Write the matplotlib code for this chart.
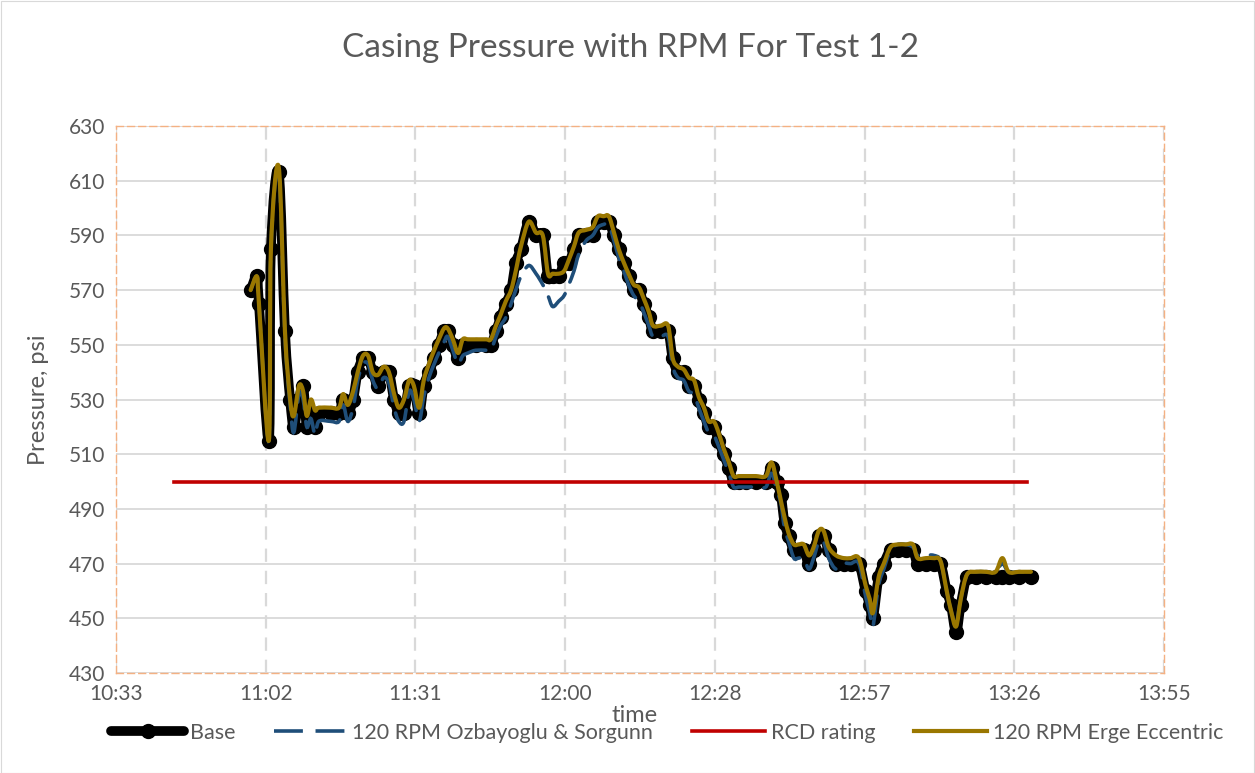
import numpy as np
import matplotlib
matplotlib.use("Agg")
import matplotlib.pyplot as plt
from matplotlib.path import Path
from matplotlib.patches import PathPatch, Rectangle
from matplotlib.lines import Line2D

# ---------------- data (time = minutes after 11:00) ----------------
minutes = [-0.5, 0.7, 1.1, 3.0, 3.4, 4.9, 6.1, 7.1, 7.8, 8.8, 9.6, 10.3, 11.1, 11.9,
           12.6, 14.9, 16.5, 17.3, 18.2, 19.2, 20.1, 21.1, 22.1, 23.0, 24.0, 25.1,
           26.1, 27.1, 28.0, 29.0, 30.0, 30.9, 31.9, 32.8, 33.8, 34.8, 35.7, 36.7,
           37.4, 38.4, 39.4, 40.3, 41.3, 42.8, 44.8, 45.7, 46.7, 47.6, 48.6, 49.6,
           50.5, 51.5, 53.0, 54.4, 55.7, 56.7, 57.6, 58.8, 59.8, 60.7, 61.7, 62.6,
           64.0, 65.3, 66.3, 67.4, 68.4, 69.4, 70.3, 71.3, 72.2, 73.2, 74.2, 75.1,
           76.1, 76.9, 78.4, 79.8, 80.7, 81.7, 82.8, 83.8, 84.8, 85.7, 86.7, 87.6,
           88.6, 89.5, 90.5, 91.5, 92.4, 93.4, 94.7, 96.7, 98.6, 99.7, 100.7, 101.5,
           102.2, 103.0, 104.0, 104.9, 105.9, 106.9, 107.8, 108.8, 109.7, 110.7,
           112.1, 113.6, 114.9, 116.5, 117.8, 118.6, 119.2, 120.3, 121.3, 122.6,
           124.0, 125.5, 126.9, 127.8, 129.4, 130.9, 132.2, 133.4, 134.2, 135.2,
           136.1, 137.3, 139.0, 140.9, 142.8, 144.1, 145.3, 147.3, 149.6]

base = [570, 575, 565, 515, 585, 613, 555, 530, 520, 530, 535, 520, 525, 520,
        525, 525, 525, 530, 525, 530, 540, 545, 545, 540, 535, 540,
        540, 530, 525, 525, 535, 535, 525, 535, 540, 545, 550, 555,
        555, 550, 545, 550, 550, 550, 550, 550, 555, 560, 565, 570,
        580, 585, 595, 590, 590, 575, 575, 575, 580, 580, 585, 590,
        590, 590, 595, 595, 595, 590, 585, 580, 575, 570, 570, 565,
        560, 555, 555, 555, 545, 540, 540, 535, 535, 530, 525, 520,
        520, 515, 510, 505, 500, 500, 500, 500, 500, 505, 500, 495,
        485, 480, 475, 475, 475, 470, 475, 480, 480, 475,
        470, 470, 470, 470, 460, 455, 450, 465, 470, 475,
        475, 475, 475, 470, 470, 470, 470, 460, 455, 445,
        455, 465, 465, 465, 465, 465, 465, 465, 465]

ozbayoglu = [570, 575, 565, 515, 585, 613, 553, 528, 518, 532, 530, 520, 523, 517,
             522, 522, 522, 528, 522, 527, 537, 543, 543, 537, 534, 538,
             536, 527, 522, 522, 533, 530, 522, 531, 538, 543, 547, 551,
             553, 548, 543, 546, 547, 548, 548, 548, 553, 557, 560, 565,
             570, 575, 579, 576, 572, 568, 564, 566, 568, 572, 577, 583,
             588, 590, 593, 594, 594, 588, 582, 577, 572, 568, 566, 562,
             557, 553, 553, 553, 542, 538, 537, 533, 532, 527, 522, 518,
             517, 513, 508, 503, 498, 498, 498, 498, 498, 503, 497, 492,
             483, 478, 472, 472, 472, 468, 472, 478, 478, 472,
             468, 470, 470, 470, 458, 452, 447, 462, 468, 475,
             477, 477, 476, 473, 473, 473, 471, 460, 453, 448,
             457, 466, 467, 467, 467, 470, 467, 467, 467]

erge = [570, 575, 565, 515, 585, 615, 555, 530, 524, 535, 533, 524, 530, 526,
        527, 527, 527, 532, 528, 533, 540, 546, 546, 540, 539, 542,
        540, 532, 527, 530, 537, 535, 527, 537, 543, 548, 552, 556,
        556, 552, 547, 552, 552, 552, 552, 552, 557, 561, 566, 570,
        577, 586, 595, 591, 590, 576, 576, 576, 577, 581, 586, 591,
        592, 593, 597, 597, 597, 591, 585, 580, 576, 572, 571, 567,
        562, 557, 557, 557, 545, 542, 541, 538, 537, 531, 527, 522,
        522, 518, 512, 507, 502, 502, 502, 502, 502, 507, 500, 493,
        487, 481, 477, 477, 477, 473, 476, 482, 482, 476,
        473, 472, 472, 472, 462, 457, 452, 465, 470, 476,
        477, 477, 477, 472, 472, 472, 471, 460, 453, 447,
        457, 466, 467, 467, 467, 472, 467, 467, 467]

rcd_minutes = [-15.2, 148.8]
rcd = [500, 500]

x_tick_labels = ["10:33", "11:02", "11:31", "12:00", "12:28", "12:57", "13:26", "13:55"]
x_first_tick = -26.4      # 10:33.6 expressed in minutes after 11:00
x_major_unit = 28.8       # Excel major unit 0.02 day
y_ticks = list(range(430, 631, 20))

# ---------------- helpers ----------------
def smooth_path(x, y):
    """Excel-like smoothed line (Catmull-Rom as cubic Bezier)."""
    pts = np.column_stack([x, y]).astype(float)
    n = len(pts)
    verts = [pts[0]]
    codes = [Path.MOVETO]
    for i in range(n - 1):
        p0 = pts[i - 1] if i > 0 else pts[i]
        p1 = pts[i]
        p2 = pts[i + 1]
        p3 = pts[i + 2] if i + 2 < n else pts[i + 1]
        c1 = p1 + (p2 - p0) / 6.0
        c2 = p2 - (p3 - p1) / 6.0
        verts += [c1, c2, p2]
        codes += [Path.CURVE4] * 3
    return Path(np.array(verts), codes)

# ---------------- figure ----------------
plt.rcParams['font.family'] = ['Lato', 'DejaVu Sans']
W, H = 1255, 773
fig = plt.figure(figsize=(W / 100, H / 100), dpi=100)
fig.patch.set_facecolor('white')
fig.add_artist(Rectangle((0.5 / W, 0.5 / H), 1 - 1.5 / W, 1 - 1.5 / H, transform=fig.transFigure,
                         fill=False, edgecolor='#d9d9d9', lw=0.8))

L, R, T, B = 116, 1164, 126, 673
ax = fig.add_axes([L / W, 1 - B / H, (R - L) / W, (B - T) / H])

xticks = [x_first_tick + i * x_major_unit for i in range(len(x_tick_labels))]
ax.set_xlim(xticks[0], xticks[-1])
ax.set_ylim(y_ticks[0], y_ticks[-1])
ax.set_xticks(xticks)
ax.set_xticklabels(x_tick_labels)
ax.set_yticks(y_ticks)

# grid
for yv in y_ticks:
    ax.axhline(yv, color='#d9d9d9', lw=1.3, zorder=0)
for xv in xticks:
    ax.axvline(xv, color='#d9d9d9', lw=1.6, ls=(0, (6, 4)), zorder=0)

for side in ['top', 'right', 'left', 'bottom']:
    ax.spines[side].set_color('#f4b183')
    ax.spines[side].set_linestyle((0, (5, 3)))
    ax.spines[side].set_linewidth(1.0)
ax.tick_params(axis='both', length=0, labelsize=15, colors='#595959', pad=8)

c_base = 'black'
c_ozb = '#1f4e79'
c_rcd = '#c00000'
c_erge = '#9a7700'

# Base
ax.add_patch(PathPatch(smooth_path(minutes, base), fill=False, edgecolor=c_base, lw=7.0,
                       capstyle='round', joinstyle='round', zorder=2))
ax.plot(minutes, base, linestyle='none', marker='o', ms=10, color=c_base, zorder=2)
# Ozbayoglu
ax.add_patch(PathPatch(smooth_path(minutes, ozbayoglu), fill=False, edgecolor=c_ozb, lw=2.6,
                       linestyle=(0, (8, 3.5)), capstyle='round', zorder=3))
# RCD rating
ax.plot(rcd_minutes, rcd, color=c_rcd, lw=2.6, zorder=4)
# Erge
ax.add_patch(PathPatch(smooth_path(minutes, erge), fill=False, edgecolor=c_erge, lw=3.0,
                       capstyle='round', joinstyle='round', zorder=5))

ax.set_ylabel('Pressure, psi', fontsize=17, color='#595959', labelpad=14)
fig.text(635 / W, 1 - 715 / H, 'time', fontsize=17, color='#595959', ha='center', va='center')
fig.text(631 / W, 1 - 48 / H, 'Casing Pressure with RPM For Test 1-2', fontsize=24,
         color='#595959', ha='center', va='center')

handles = [
    Line2D([], [], color=c_base, lw=7.0, marker='o', ms=10, solid_capstyle='round'),
    Line2D([], [], color=c_ozb, lw=2.6, linestyle=(0, (8, 3.5))),
    Line2D([], [], color=c_rcd, lw=2.6),
    Line2D([], [], color=c_erge, lw=3.0),
]
labels = ['Base', '120 RPM Ozbayoglu & Sorgunn', 'RCD rating', '120 RPM Erge Eccentric']
leg = fig.legend(handles, labels, loc='center', bbox_to_anchor=(667 / W, 1 - 733 / H), ncol=4,
                 frameon=False, fontsize=15.5, handlelength=3.4, handletextpad=0.25,
                 columnspacing=1.8, labelcolor='#595959')

fig.savefig('out.png', dpi=100)
